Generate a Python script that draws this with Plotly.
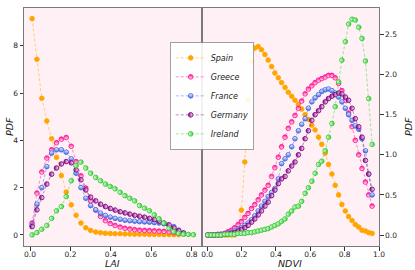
import plotly.graph_objects as go

# ---------------- data ----------------
countries = ["Spain", "Greece", "France", "Germany", "Ireland"]

lai_x = [0.010, 0.034, 0.058, 0.083, 0.107, 0.131, 0.155, 0.179, 0.204, 0.228,
         0.252, 0.276, 0.300, 0.325, 0.349, 0.373, 0.397, 0.421, 0.446, 0.470,
         0.494, 0.518, 0.542, 0.567, 0.591, 0.615, 0.639, 0.663, 0.688, 0.712,
         0.736, 0.760, 0.784, 0.809]

lai_spain = [9.15, 7.43, 5.78, 4.82, 4.07, 3.28, 2.51, 1.81, 1.27, 0.83, 0.50, 0.30,
             0.19, 0.12, 0.09, 0.07, 0.06, 0.05, 0.05, 0.04, 0.04, 0.03, 0.03, 0.03,
             0.02, 0.02, 0.02, 0.01, 0.01, 0.01, 0.01]
lai_greece = [0.50, 1.77, 2.66, 3.25, 3.60, 3.90, 4.05, 4.12, 3.75, 3.10, 2.50, 1.98,
              1.45, 1.05, 0.78, 0.60, 0.48, 0.40, 0.33, 0.28, 0.25, 0.22, 0.20, 0.19,
              0.18, 0.17, 0.16, 0.15, 0.13, 0.10, 0.07, 0.04]
lai_france = [0.40, 1.30, 2.00, 2.89, 3.46, 3.60, 3.60, 3.50, 3.22, 2.61, 2.00, 1.55,
              1.24, 1.06, 0.92, 0.82, 0.75, 0.70, 0.66, 0.62, 0.60, 0.58, 0.56, 0.55,
              0.54, 0.52, 0.50, 0.47, 0.42, 0.35, 0.20, 0.08]
lai_germany = [0.35, 1.06, 1.58, 2.15, 2.57, 2.83, 3.00, 3.10, 3.05, 2.75, 2.33, 1.90,
               1.60, 1.44, 1.30, 1.20, 1.12, 1.05, 0.98, 0.93, 0.88, 0.83, 0.79, 0.75,
               0.70, 0.65, 0.58, 0.50, 0.42, 0.30, 0.18, 0.08]
lai_ireland = [0.00, 0.10, 0.24, 0.40, 0.70, 1.02, 1.20, 1.62, 2.29, 2.94, 3.08, 2.83,
               2.61, 2.43, 2.29, 2.15, 2.05, 1.95, 1.80, 1.66, 1.55, 1.44, 1.24, 1.13,
               1.02, 0.85, 0.68, 0.50, 0.28, 0.14, 0.07, 0.03, 0.02, 0.01]

ndvi_x = [0.004, 0.024, 0.043, 0.063, 0.082, 0.102, 0.121, 0.141, 0.160, 0.180,
          0.199, 0.219, 0.238, 0.258, 0.277, 0.297, 0.316, 0.336, 0.355, 0.375,
          0.394, 0.414, 0.433, 0.453, 0.472, 0.492, 0.511, 0.531, 0.550, 0.570,
          0.589, 0.609, 0.628, 0.648, 0.667, 0.687, 0.706, 0.726, 0.745, 0.765,
          0.784, 0.804, 0.823, 0.843, 0.862, 0.882, 0.901, 0.921, 0.940, 0.960]

ndvi_spain = [0.0, 0.0, 0.0, 0.0, 0.0, 0.0, 0.0, 0.0, 0.0,
              0.09, 0.31, 0.91, 1.68, 2.16, 2.33, 2.35, 2.31, 2.25, 2.18, 2.10,
              2.02, 1.96, 1.90, 1.84, 1.78, 1.73, 1.68, 1.63, 1.57, 1.50,
              1.44, 1.37, 1.31, 1.22, 1.13, 1.02, 0.88, 0.76, 0.62, 0.50,
              0.38, 0.30, 0.23, 0.18, 0.13, 0.10, 0.06, 0.05, 0.03, 0.02]
ndvi_greece = [0.0, 0.0, 0.0, 0.01, 0.01, 0.02, 0.04, 0.06, 0.09, 0.13,
               0.17, 0.22, 0.27, 0.33, 0.38, 0.44, 0.50, 0.56, 0.62, 0.73,
               0.84, 0.97, 1.10, 1.22, 1.33, 1.41, 1.49, 1.58, 1.67, 1.76,
               1.82, 1.86, 1.90, 1.93, 1.95, 1.97, 1.99, 1.99, 1.96, 1.89,
               1.80, 1.68, 1.52, 1.35, 1.18, 1.00, 0.83, 0.66, 0.50, 0.36]
ndvi_france = [0.0, 0.0, 0.0, 0.0, 0.01, 0.01, 0.02, 0.03, 0.05, 0.07,
               0.09, 0.12, 0.15, 0.19, 0.24, 0.30, 0.36, 0.42, 0.48, 0.53,
               0.58, 0.70, 0.89, 0.95, 1.00, 1.10, 1.20, 1.30, 1.38, 1.45,
               1.58, 1.66, 1.71, 1.75, 1.79, 1.81, 1.82, 1.80, 1.77, 1.72,
               1.66, 1.58, 1.50, 1.43, 1.36, 1.32, 1.20, 1.05, 0.76, 0.50]
ndvi_germany = [0.0, 0.0, 0.0, 0.0, 0.0, 0.01, 0.01, 0.02, 0.03, 0.05,
                0.07, 0.09, 0.12, 0.16, 0.20, 0.25, 0.30, 0.36, 0.41, 0.49,
                0.56, 0.64, 0.70, 0.73, 0.80, 0.86, 0.91, 1.00, 1.08, 1.20,
                1.30, 1.43, 1.50, 1.55, 1.60, 1.66, 1.70, 1.73, 1.75, 1.77,
                1.76, 1.72, 1.68, 1.58, 1.45, 1.35, 1.22, 0.93, 0.76, 0.57]
ndvi_ireland = [0.0, 0.0, 0.0, 0.0, 0.0, 0.01, 0.01, 0.01, 0.01, 0.02,
                0.02, 0.02, 0.03, 0.03, 0.04, 0.05, 0.06, 0.07, 0.08, 0.10,
                0.12, 0.14, 0.17, 0.20, 0.26, 0.30, 0.35, 0.36, 0.42, 0.52,
                0.59, 0.67, 0.77, 0.88, 0.92, 1.05, 1.22, 1.39, 1.60, 1.91,
                2.18, 2.41, 2.63, 2.69, 2.68, 2.59, 2.45, 2.17, 1.70, 1.13]

lai_values = [lai_spain, lai_greece, lai_france, lai_germany, lai_ireland]
ndvi_values = [ndvi_spain, ndvi_greece, ndvi_france, ndvi_germany, ndvi_ireland]

lai_ticks = [0.0, 0.2, 0.4, 0.6, 0.8]
ndvi_ticks = [0.0, 0.2, 0.4, 0.6, 0.8, 1.0]
pdf_left_ticks = [0, 2, 4, 6, 8]
pdf_right_ticks = [0.0, 0.5, 1.0, 1.5, 2.0, 2.5]

# ---------------- styles ----------------
colors = ["#FFA500", "#FF1493", "#4169E1", "#800080", "#32CD32"]
line_colors = ["rgba(255,165,0,0.6)", "rgba(255,20,147,0.6)", "rgba(65,105,225,0.6)",
               "rgba(128,0,128,0.6)", "rgba(50,205,50,0.6)"]
# emulate matplotlib half-filled markers (full, top, bottom, left, right)
fills = [None, ("vertical", True), ("vertical", False), ("horizontal", True), ("horizontal", False)]

FONT = "DejaVu Sans"


def marker_for(i):
    c = colors[i]
    f = fills[i]
    m = dict(size=4.6, line=dict(color=c, width=0.9), symbol="circle")
    if f is None:
        m["color"] = c
    else:
        typ, first = f
        if first:
            m["color"] = c
            m["gradient"] = dict(type=typ, color="white")
        else:
            m["color"] = "white"
            m["gradient"] = dict(type=typ, color=c)
    return m


fig = go.Figure()
for i, name in enumerate(countries):
    y = lai_values[i]
    fig.add_trace(go.Scatter(
        x=lai_x[:len(y)], y=y, mode="lines+markers", name=name,
        line=dict(color=line_colors[i], width=0.8, dash="3px,2px"),
        marker=marker_for(i), xaxis="x", yaxis="y", legendgroup=name,
    ))
for i, name in enumerate(countries):
    y = ndvi_values[i]
    fig.add_trace(go.Scatter(
        x=ndvi_x[:len(y)], y=y, mode="lines+markers", name=name, showlegend=False,
        line=dict(color=line_colors[i], width=0.8, dash="3px,2px"),
        marker=marker_for(i), xaxis="x2", yaxis="y2", legendgroup=name,
    ))

axis_common = dict(
    showline=True, linecolor="#7a7a7a", linewidth=1, mirror=True, automargin=False,
    showgrid=False, zeroline=False, ticks="outside", ticklen=3.5, tickwidth=0.8,
    tickcolor="#333", tickfont=dict(family=FONT, size=7.5, color="#222"),
)
x_axis_extra = dict(ticklabelstandoff=-3)
title_font = dict(family=FONT, size=9.5, color="#222", style="italic")

fig.update_layout(
    width=415, height=270,
    margin=dict(l=24, r=36, t=8, b=24, autoexpand=False),
    paper_bgcolor="white", plot_bgcolor="#FFF0F5",
    showlegend=True,
    legend=dict(
        x=0.411, y=0.63, xanchor="left", yanchor="middle",
        bgcolor="rgba(255,255,255,0.9)", bordercolor="#8a8a8a", borderwidth=0.8,
        font=dict(family=FONT, size=8, color="#222", style="italic"),
        itemwidth=30, tracegroupgap=0,
    ),
    xaxis=dict(domain=[0, 0.5], range=[-0.03, 0.849], tickvals=lai_ticks,
               ticktext=[f"{v:.1f}" for v in lai_ticks], anchor="y",
               **axis_common, **x_axis_extra),
    yaxis=dict(range=[-0.47, 9.6], tickvals=pdf_left_ticks,
               ticktext=[str(v) for v in pdf_left_ticks], anchor="x",
               **axis_common),
    xaxis2=dict(domain=[0.5, 1], range=[-0.033, 1.0], tickvals=ndvi_ticks,
                ticktext=[f"{v:.1f}" for v in ndvi_ticks], anchor="y2",
                **axis_common, **x_axis_extra),
    yaxis2=dict(range=[-0.137, 2.83], tickvals=pdf_right_ticks,
                ticktext=[f"{v:.1f}" for v in pdf_right_ticks], side="right",
                anchor="x2", **axis_common),
    annotations=[
        dict(text="LAI", xref="paper", yref="paper", x=0.25, y=0, yshift=-17,
             xanchor="center", yanchor="middle", showarrow=False, font=title_font),
        dict(text="NDVI", xref="paper", yref="paper", x=0.75, y=0, yshift=-17,
             xanchor="center", yanchor="middle", showarrow=False, font=title_font),
        dict(text="PDF", xref="paper", yref="paper", x=0, xshift=-15, y=0.5,
             xanchor="center", yanchor="middle", showarrow=False, textangle=-90,
             font=title_font),
        dict(text="PDF", xref="paper", yref="paper", x=1, xshift=29, y=0.5,
             xanchor="center", yanchor="middle", showarrow=False, textangle=-90,
             font=title_font),
    ],
)

fig.write_html(
    "out.html",
    config={"displayModeBar": False},
    post_script="document.body.style.margin='0';document.body.style.overflow='hidden';",
)
